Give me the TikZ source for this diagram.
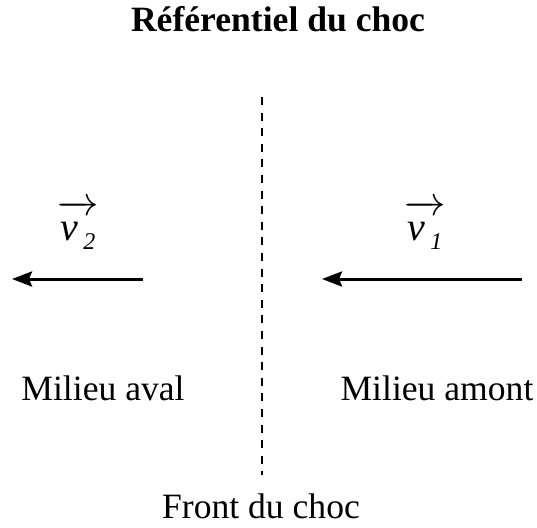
\documentclass[tikz,border=0pt]{standalone}
\usepackage{fontspec}
\setmainfont{Liberation Serif}
\usetikzlibrary{arrows.meta}

\newcommand{\vitesse}[1]{$\overrightarrow{\hbox{\rule{0pt}{13.5pt}\itshape v\kern2.5pt\raisebox{-4.5pt}{\fontsize{12}{12}\selectfont #1}}}$}

\begin{document}
\begin{tikzpicture}[>={Stealth[length=10pt, width=7.5pt, inset=1.5pt]}, x=0.5pt, y=-0.5pt,
    texte/.style={font=\fontsize{17.8}{20}\selectfont, anchor=base, inner sep=0pt},
    vecteur/.style={font=\fontsize{20}{22}\selectfont, anchor=base, inner sep=0pt}]
  \useasboundingbox (0,0) rectangle (537,527);
  % Titre
  \node[texte, font=\fontsize{17.8}{20}\selectfont\bfseries] (titre) at (278,31) {Référentiel du choc};
  % Front du choc
  \coordinate (fronthaut) at (262,97);
  \coordinate (frontbas) at (262,475);
  \draw[dash pattern=on 4pt off 3.8pt, line width=1pt] (fronthaut) -- (frontbas);
  \node[texte] (front) at (261,518) {Front du choc};
  % Milieu aval
  \coordinate (avaldebut) at (143,279);
  \coordinate (avalfin) at (12,279);
  \draw[->, line width=1.5pt] (avaldebut) -- (avalfin);
  \node[vecteur] (v2) at (78,240) {\vitesse{2}};
  \node[texte] (aval) at (103,400) {Milieu aval};
  % Milieu amont
  \coordinate (amontdebut) at (522,279);
  \coordinate (amontfin) at (322,279);
  \draw[->, line width=1.5pt] (amontdebut) -- (amontfin);
  \node[vecteur] (v1) at (425,240) {\vitesse{1}};
  \node[texte] (amont) at (437,400) {Milieu amont};
\end{tikzpicture}
\end{document}
